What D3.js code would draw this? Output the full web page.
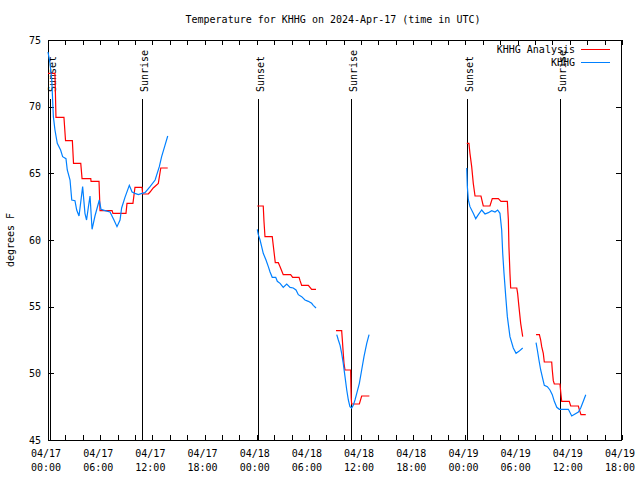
<!DOCTYPE html>
<html>
<head>
<meta charset="utf-8">
<script src="https://cdn.jsdelivr.net/npm/d3@7"></script>
<style>
  html, body { margin: 0; padding: 0; background: #fff; }
  svg { display: block; }
  text { font-family: "DejaVu Sans Mono", "Liberation Mono", monospace; font-size: 10px; fill: #000; }
</style>
</head>
<body>
<svg id="chart" width="640" height="480"></svg>
<script>
// ---- data ----
const chartTitle = "Temperature for KHHG on 2024-Apr-17 (time in UTC)";
const yLabel = "degrees F";
const seriesNames = ["KHHG Analysis", "KHHG"];
const seriesColors = ["#ff0000", "#0080ff"];
const yTicks = [45, 50, 55, 60, 65, 70, 75];
const timeDomain = ["04-17 00:00", "04-19 18:00"];

// KHHG Analysis (red); null marks a gap
const analysisTimes = [
  "04-17 00:00","04-17 00:48","04-17 00:55","04-17 01:50","04-17 02:01","04-17 02:48","04-17 02:56","04-17 03:46",
  "04-17 03:55","04-17 04:55","04-17 04:57","04-17 05:52","04-17 05:59","04-17 07:22","04-17 07:28","04-17 08:58",
  "04-17 09:05","04-17 09:46","04-17 10:00","04-17 10:49","04-17 10:53","04-17 11:32","04-17 11:44","04-17 12:06",
  "04-17 12:41","04-17 12:58","04-17 13:46",
  null,
  "04-18 00:04","04-18 00:45","04-18 00:50","04-18 00:57","04-18 01:47","04-18 02:08","04-18 02:29","04-18 02:41",
  "04-18 02:52","04-18 03:03","04-18 03:54","04-18 04:08","04-18 04:52","04-18 04:59","04-18 05:10","04-18 05:56",
  "04-18 06:19","04-18 06:49",
  null,
  "04-18 09:07","04-18 09:46","04-18 09:50","04-18 09:57","04-18 10:02","04-18 10:09","04-18 10:48","04-18 10:50",
  "04-18 10:52","04-18 10:55","04-18 11:48","04-18 12:04","04-18 12:57",
  null,
  "04-19 00:09","04-19 00:24","04-19 00:31","04-19 00:43","04-19 00:54","04-19 01:06","04-19 01:47","04-19 02:03",
  "04-19 02:49","04-19 03:05","04-19 03:47","04-19 04:05","04-19 04:49","04-19 04:56","04-19 05:00","04-19 05:07",
  "04-19 05:12","04-19 05:54","04-19 06:00","04-19 06:09","04-19 06:21","04-19 06:35",
  null,
  "04-19 08:07","04-19 08:30","04-19 08:39","04-19 08:46","04-19 08:57","04-19 09:04","04-19 09:55","04-19 09:59",
  "04-19 10:06","04-19 10:13","04-19 10:52","04-19 10:59","04-19 11:04","04-19 11:56","04-19 12:06","04-19 12:59",
  "04-19 13:05","04-19 13:17","04-19 13:50"
];
const analysisTemps = [
  72.5,72.5,69.2,69.2,67.45,67.45,65.75,65.75,
  64.6,64.6,64.4,64.4,62.2,62.2,62.0,62.0,
  62.75,62.75,63.95,63.95,63.45,63.45,63.6,63.9,
  64.25,65.4,65.4,
  null,
  62.55,62.55,61.4,60.25,60.25,58.3,58.3,58.0,
  57.7,57.4,57.4,57.2,57.2,56.95,56.6,56.6,
  56.3,56.3,
  null,
  53.2,53.2,52.6,51.5,50.75,50.25,50.25,49.0,
  48.1,47.7,47.7,48.3,48.3,
  null,
  67.25,67.25,66.5,65.5,64.25,63.3,63.3,62.55,
  62.55,63.1,63.1,62.9,62.9,61.5,59.5,57.5,
  56.4,56.4,56.0,55.0,53.75,52.75,
  null,
  52.9,52.9,52.5,52.0,51.5,50.85,50.85,50.25,
  49.45,49.2,49.2,48.4,47.9,47.9,47.55,47.55,
  47.3,46.9,46.9
];

// KHHG observations (blue); null marks a gap
const obsTimes = [
  "04-17 00:00","04-17 00:14","04-17 00:26","04-17 00:32","04-17 00:37","04-17 00:48","04-17 01:04","04-17 01:27",
  "04-17 01:41","04-17 02:04","04-17 02:13","04-17 02:32","04-17 02:44","04-17 03:06","04-17 03:18","04-17 03:34",
  "04-17 03:59","04-17 04:15","04-17 04:26","04-17 04:39","04-17 04:50","04-17 05:04","04-17 05:24","04-17 05:54",
  "04-17 06:06","04-17 06:33","04-17 07:08","04-17 07:35","04-17 07:56","04-17 08:17","04-17 08:28","04-17 08:51",
  "04-17 09:21","04-17 09:40","04-17 10:00","04-17 10:23","04-17 10:49","04-17 11:09","04-17 11:44","04-17 12:19",
  "04-17 12:48","04-17 13:04","04-17 13:27","04-17 13:46",
  null,
  "04-18 00:04","04-18 00:11","04-18 00:23","04-18 00:34","04-18 00:45","04-18 01:04","04-18 01:20","04-18 01:32",
  "04-18 01:47","04-18 02:11","04-18 02:22","04-18 02:41","04-18 03:03","04-18 03:27","04-18 03:50","04-18 04:12",
  "04-18 04:31","04-18 04:47","04-18 05:10","04-18 05:33","04-18 05:56","04-18 06:19","04-18 06:30","04-18 06:49",
  null,
  "04-18 09:12","04-18 09:23","04-18 09:35","04-18 09:46","04-18 09:57","04-18 10:09","04-18 10:21","04-18 10:32",
  "04-18 10:43","04-18 10:55","04-18 11:06","04-18 11:18","04-18 11:30","04-18 11:48","04-18 12:04","04-18 12:20",
  "04-18 12:39","04-18 12:55",
  null,
  "04-19 00:09","04-19 00:13","04-19 00:20","04-19 00:31","04-19 00:54","04-19 01:11","04-19 01:29","04-19 01:52",
  "04-19 02:15","04-19 02:38","04-19 03:01","04-19 03:24","04-19 03:42","04-19 03:58","04-19 04:10","04-19 04:17",
  "04-19 04:26","04-19 04:38","04-19 04:49","04-19 05:07","04-19 05:30","04-19 05:49","04-19 06:09","04-19 06:35",
  null,
  "04-19 08:07","04-19 08:16","04-19 08:27","04-19 08:39","04-19 08:53","04-19 09:04","04-19 09:25","04-19 09:43",
  "04-19 09:59","04-19 10:13","04-19 10:30","04-19 10:48","04-19 11:15","04-19 11:50","04-19 12:13","04-19 12:36",
  "04-19 12:59","04-19 13:15","04-19 13:33","04-19 13:50"
];
const obsTemps = [
  74.1,73.25,72.0,70.5,69.25,68.25,67.25,66.75,
  66.25,66.1,65.25,64.5,63.0,62.95,62.25,61.8,
  64.0,62.0,61.5,62.5,63.3,60.8,61.8,63.0,
  62.3,62.2,62.1,61.5,61.0,61.5,62.4,63.2,
  64.1,63.6,63.5,63.4,63.5,63.55,64.0,64.5,
  65.5,66.25,67.1,67.8,
  null,
  60.8,60.4,60.0,59.5,59.0,58.5,58.0,57.6,
  57.2,57.2,56.9,56.75,56.45,56.7,56.45,56.4,
  56.25,55.9,55.75,55.5,55.4,55.25,55.1,54.9,
  null,
  52.9,52.5,52.1,51.5,50.75,49.75,48.75,48.0,
  47.5,47.4,47.6,48.0,48.5,49.25,50.25,51.25,
  52.25,52.9,
  null,
  65.4,64.0,63.0,62.5,62.0,61.6,61.9,62.25,
  61.95,62.05,62.2,62.1,62.25,62.0,60.75,59.0,
  57.5,55.75,54.25,52.75,51.9,51.5,51.65,51.9,
  null,
  52.3,51.75,51.0,50.25,49.6,49.1,49.0,48.75,
  48.4,47.9,47.45,47.3,47.3,47.3,46.8,46.95,
  47.1,47.4,47.9,48.4
];

// Sun events
const eventTimes = ["04-17 00:14","04-17 10:50","04-18 00:11","04-18 10:50","04-19 00:13","04-19 10:51"];
const eventNames = ["Sunset","Sunrise","Sunset","Sunrise","Sunset","Sunrise"];
const eventLineTop = 70.6;

// ---- drawing ----
const W = 640, H = 480;
const M = {left: 48, right: 622, top: 40, bottom: 440};
const parse = s => d3.utcParse("%Y-%m-%d %H:%M")("2024-" + s);
const svg = d3.select("#chart");

const x = d3.scaleUtc().domain(timeDomain.map(parse)).range([M.left, M.right]);
const y = d3.scaleLinear().domain([45, 75]).range([M.bottom, M.top]);

// title
svg.append("text").attr("x", 333).attr("y", 23).attr("text-anchor", "middle").text(chartTitle);

// y label
svg.append("text").attr("transform", "translate(14,240) rotate(-90)")
  .attr("text-anchor", "middle").text(yLabel);

const g = svg.append("g").attr("shape-rendering", "crispEdges");

// y ticks (both sides, inward)
yTicks.forEach(v => {
  const yy = Math.round(y(v)) + 0.5;
  g.append("line").attr("x1", M.left).attr("x2", M.left + 6).attr("y1", yy).attr("y2", yy).attr("stroke", "#000");
  g.append("line").attr("x1", M.right - 6).attr("x2", M.right).attr("y1", yy).attr("y2", yy).attr("stroke", "#000");
  svg.append("text").attr("x", 41).attr("y", y(v)).attr("dy", "0.35em").attr("text-anchor", "end").text(v);
});

// x ticks every 2h, top & bottom
const tks = d3.utcHour.every(2).range(x.domain()[0], d3.utcMinute.offset(x.domain()[1], 1));
tks.forEach(t => {
  const xx = Math.round(x(t)) + 0.5;
  g.append("line").attr("x1", xx).attr("x2", xx).attr("y1", M.bottom).attr("y2", M.bottom - 5).attr("stroke", "#000");
  g.append("line").attr("x1", xx).attr("x2", xx).attr("y1", M.top).attr("y2", M.top + 5).attr("stroke", "#000");
});
// x labels every 6h
const fDay = d3.utcFormat("%m/%d"), fTime = d3.utcFormat("%H:%M");
d3.utcHour.every(6).range(x.domain()[0], d3.utcMinute.offset(x.domain()[1], 1)).forEach(t => {
  const t1 = svg.append("text").attr("x", x(t) - 2).attr("text-anchor", "middle");
  t1.append("tspan").attr("x", x(t) - 2).attr("y", 457).text(fDay(t));
  t1.append("tspan").attr("x", x(t) - 2).attr("y", 471).text(fTime(t));
});

// border
g.append("rect").attr("x", M.left + 0.5).attr("y", M.top + 0.5)
  .attr("width", M.right - M.left - 1).attr("height", M.bottom - M.top)
  .attr("fill", "none").attr("stroke", "#000");

// event lines + labels
eventTimes.forEach((s, i) => {
  const xx = Math.round(x(parse(s))) + 0.5;
  g.append("line").attr("x1", xx).attr("x2", xx).attr("y1", y(eventLineTop)).attr("y2", M.bottom).attr("stroke", "#000");
  svg.append("text").attr("transform", `translate(${xx + 5},92) rotate(-90)`).text(eventNames[i]);
});

// series
function series(times, temps) {
  return times.map((t, i) => ({t: t == null ? null : parse(t), v: temps[i]}));
}
const line = d3.line().defined(d => d.t != null && d.v != null).x(d => x(d.t)).y(d => y(d.v));
svg.append("path").datum(series(analysisTimes, analysisTemps)).attr("d", line)
  .attr("fill", "none").attr("stroke", seriesColors[0]).attr("stroke-width", 1.2);
svg.append("path").datum(series(obsTimes, obsTemps)).attr("d", line)
  .attr("fill", "none").attr("stroke", seriesColors[1]).attr("stroke-width", 1.2);

// legend
seriesNames.forEach((n, i) => {
  const ly = 49 + i * 13;
  svg.append("text").attr("x", 575).attr("y", ly).attr("dy", "0.35em").attr("text-anchor", "end").text(n);
  g.append("line").attr("x1", 581).attr("x2", 610).attr("y1", ly + 0.5).attr("y2", ly + 0.5)
    .attr("stroke", seriesColors[i]).attr("stroke-width", 1);
});
</script>
</body>
</html>
